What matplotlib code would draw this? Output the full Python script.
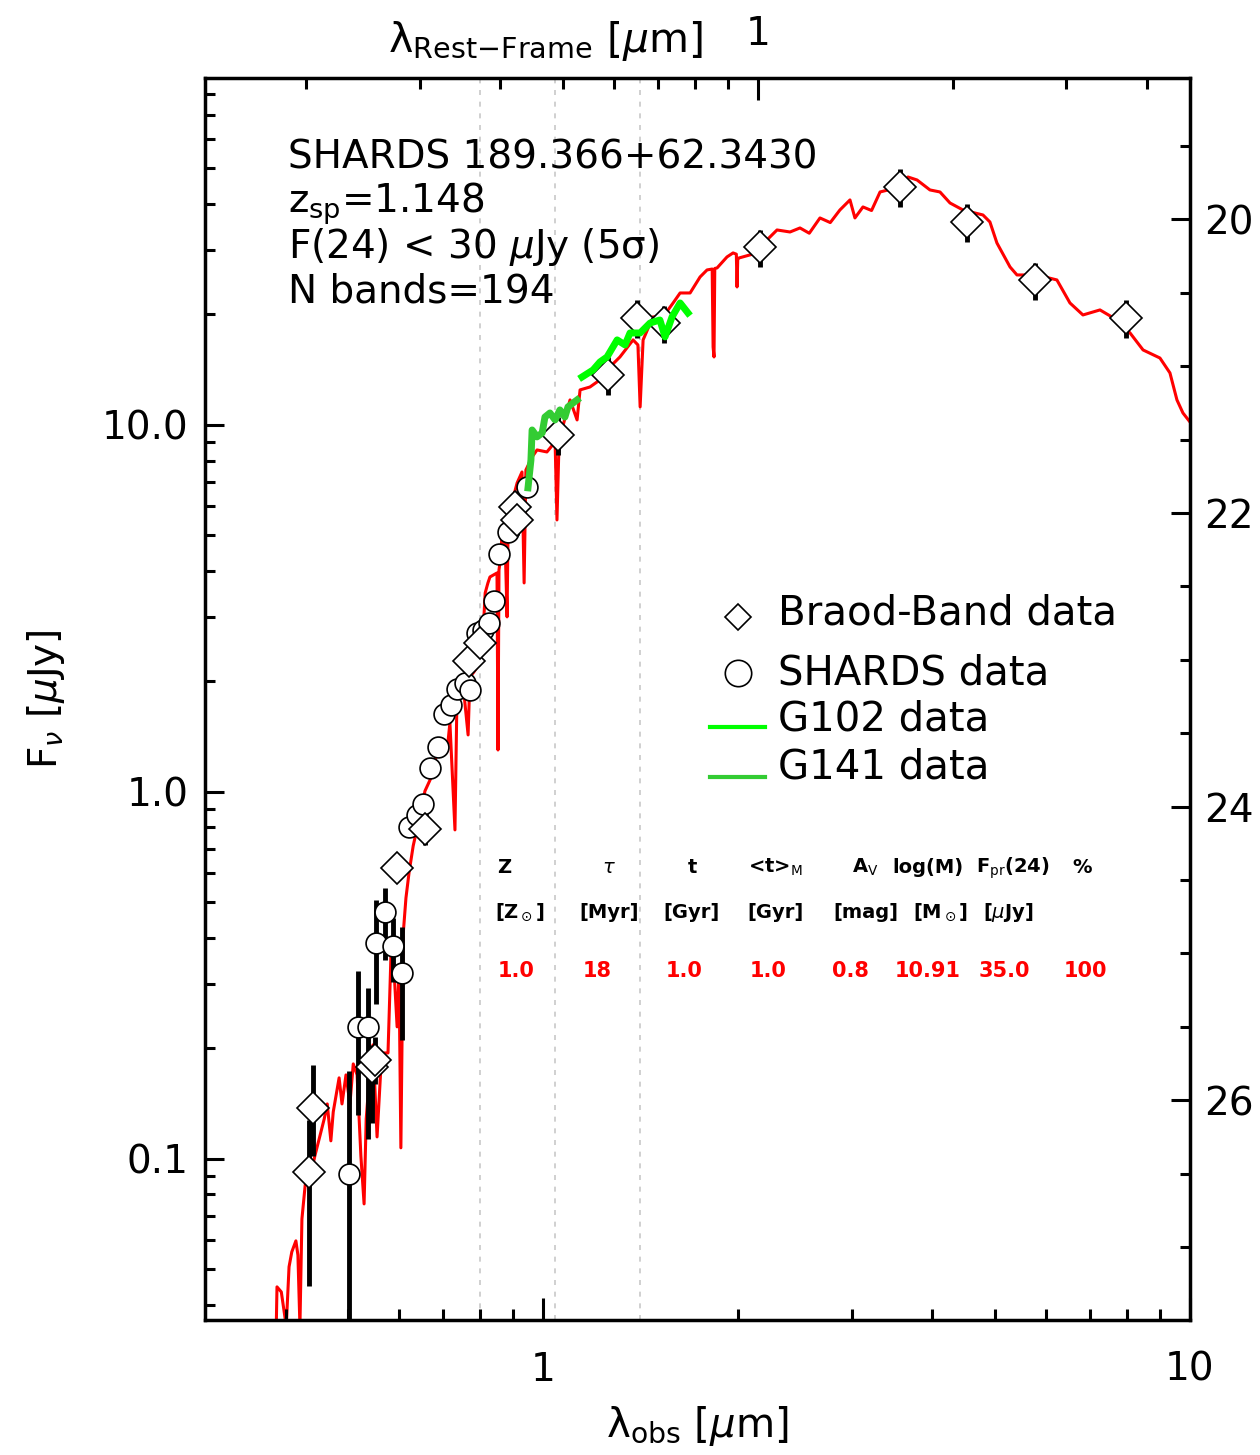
import numpy as np
import matplotlib
matplotlib.use("Agg")
import matplotlib.pyplot as plt
from matplotlib.ticker import FixedLocator, NullFormatter, MultipleLocator

plt.rcParams['font.family'] = ['DejaVu Sans']
plt.rcParams['mathtext.fontset'] = 'dejavusans'

z = 1.148

# best-fit model (red)
model_lam = [0.387, 0.388, 0.394, 0.401, 0.405, 0.409, 0.415, 0.418, 0.421, 0.424,
             0.429, 0.435, 0.444, 0.456, 0.459, 0.464, 0.470, 0.474, 0.484, 0.489,
             0.496, 0.503, 0.509, 0.516, 0.523, 0.529, 0.533, 0.540, 0.546, 0.554,
             0.562, 0.568, 0.576, 0.582, 0.586, 0.595, 0.599, 0.603, 0.608, 0.614,
             0.621, 0.630, 0.641, 0.657, 0.669, 0.683, 0.701, 0.711, 0.718, 0.731,
             0.736, 0.752, 0.766, 0.771, 0.782, 0.791, 0.799, 0.808, 0.814, 0.822,
             0.828, 0.849, 0.852, 0.855, 0.858, 0.864, 0.874, 0.880, 0.883, 0.889,
             0.912, 0.928, 0.935, 0.941, 0.962, 0.979, 1.014, 1.044, 1.051, 1.059,
             1.101, 1.129, 1.141, 1.182, 1.225, 1.269, 1.315, 1.378, 1.402, 1.413,
             1.428, 1.479, 1.533, 1.589, 1.629, 1.688, 1.749, 1.793, 1.826, 1.832,
             1.838, 1.843, 1.858, 1.925, 1.967, 1.990, 1.995, 2.000, 2.009, 2.142,
             2.219, 2.300, 2.409, 2.496, 2.580, 2.680, 2.780, 2.877, 2.982, 3.035,
             3.123, 3.220, 3.319, 3.564, 3.666, 3.786, 3.964, 4.108, 4.257, 4.458,
             4.787, 4.907, 5.031, 5.271, 5.403, 5.801, 6.228, 6.524, 6.833, 7.260,
             7.714, 8.080, 8.463, 8.987, 9.313, 9.548, 9.754, 10.0]
model_fnu = [0.035, 0.0448, 0.0434, 0.035, 0.0508, 0.0558, 0.0598, 0.0547, 0.035, 0.0686,
             0.0850, 0.0866, 0.1019, 0.1230, 0.1285, 0.1412, 0.1120, 0.1343, 0.1663, 0.1412,
             0.1694, 0.1412, 0.1815, 0.1694, 0.1019, 0.0754, 0.1285, 0.1737, 0.2045, 0.1148,
             0.1815, 0.1944, 0.1944, 0.3551, 0.3735, 0.2290, 0.3253, 0.1072, 0.4103, 0.5142,
             0.6053, 0.7127, 0.8180, 1.006, 1.078, 1.246, 1.343, 1.301, 1.542, 0.788,
             1.747, 1.982, 1.430, 2.058, 2.123, 2.191, 2.437, 2.712, 3.485, 3.711,
             3.853, 3.951, 1.301, 4.026, 4.207, 4.953, 4.710, 2.999, 5.175, 5.866,
             6.950, 7.445, 3.711, 7.540, 8.181, 8.549, 8.441, 8.990, 5.510, 9.101,
             11.70, 10.32, 12.46, 12.69, 13.27, 14.39, 15.32, 17.05, 16.52, 11.20,
             17.05, 19.70, 19.70, 21.50, 22.89, 22.89, 25.31, 26.45, 26.60, 16.31,
             15.32, 26.70, 26.78, 28.70, 29.43, 29.20, 23.77, 28.40, 28.51, 29.43,
             31.92, 33.99, 33.56, 34.42, 33.30, 36.65, 35.60, 38.53, 41.04, 36.65,
             39.27, 38.40, 43.14, 44.52, 47.39, 46.51, 43.69, 43.14, 40.26, 38.53,
             37.34, 35.74, 31.32, 26.95, 25.63, 25.63, 24.84, 21.50, 19.94, 20.58,
             19.32, 17.81, 16.01, 15.22, 13.86, 11.70, 10.78, 10.19]

# grism spectra
g102_lam = [1.149, 1.195, 1.225, 1.256, 1.302, 1.339, 1.363, 1.413, 1.464, 1.516, 1.544, 1.583, 1.629, 1.675]
g102_fnu = [13.51, 14.12, 14.85, 15.32, 17.05, 16.52, 17.81, 17.81, 18.96, 19.32, 17.38, 19.70, 21.50, 20.20]
g141_lam = [0.948, 0.958, 0.962, 0.979, 0.997, 1.007, 1.025, 1.044, 1.062, 1.081, 1.093, 1.113, 1.129]
g141_fnu = [6.74, 8.03, 9.69, 9.28, 9.51, 10.51, 10.78, 10.32, 10.99, 10.51, 11.20, 11.48, 11.70]

# broad-band photometry
bb_lam = [0.441, 0.435, 0.544, 0.550, 0.595, 0.657, 0.768, 0.799, 0.905, 0.912,
          1.055, 1.260, 1.398, 1.538, 2.165, 3.563, 4.52, 5.76, 7.96]
bb_fnu = [0.138, 0.092, 0.178, 0.186, 0.621, 0.793, 2.28, 2.55, 5.98, 5.51,
          9.39, 13.7, 19.6, 18.9, 30.5, 44.5, 35.7, 24.8, 19.6]
bb_lo = [0.102, 0.045, 0.125, 0.160, 0.58, 0.717, 2.10, 2.35, 5.4, 5.0,
         8.3, 12.1, 17.3, 16.7, 27.0, 39.2, 31.5, 21.9, 17.3]
bb_hi = [0.180, 0.128, 0.205, 0.215, 0.665, 0.87, 2.45, 2.75, 6.6, 6.0,
         10.5, 15.3, 21.9, 21.1, 34.0, 49.8, 40.0, 27.7, 21.9]

# SHARDS medium-band photometry
sh_lam = [0.501, 0.518, 0.536, 0.552, 0.570, 0.586, 0.605, 0.621, 0.639, 0.652,
          0.669, 0.688, 0.703, 0.721, 0.736, 0.758, 0.771, 0.791, 0.808, 0.825,
          0.840, 0.855, 0.883, 0.945]
sh_fnu = [0.0910, 0.229, 0.229, 0.388, 0.471, 0.380, 0.321, 0.803, 0.866, 0.927,
          1.162, 1.326, 1.631, 1.726, 1.909, 1.982, 1.897, 2.712, 2.764, 2.887,
          3.315, 4.45, 5.11, 6.78]
sh_lo = [0.02, 0.132, 0.113, 0.265, 0.348, 0.304, 0.211, 0.76, 0.82, 0.88,
         1.10, 1.26, 1.55, 1.64, 1.81, 1.88, 1.80, 2.58, 2.63, 2.74,
         3.15, 4.23, 4.85, 6.44]
sh_hi = [0.174, 0.325, 0.292, 0.508, 0.547, 0.454, 0.429, 0.85, 0.91, 0.97,
         1.22, 1.39, 1.71, 1.81, 2.00, 2.08, 1.99, 2.85, 2.90, 3.03,
         3.48, 4.67, 5.37, 7.12]

grism_edges = [0.80, 1.045, 1.41]

table_params = ['Z', r'$\tau$', 't', r'<t>$_{\rm M}$', r'A$_{\rm V}$', 'log(M)', r'F$_{\rm pr}$(24)', '%']
table_units = [r'[Z$_\odot$]', '[Myr]', '[Gyr]', '[Gyr]', '[mag]', r'[M$_\odot$]', r'[$\mu$Jy]']
table_values = ['1.0', '18', '1.0', '1.0', '0.8', '10.91', '35.0', '100']

fig = plt.figure(figsize=(12.6, 14.55), dpi=100)
ax = fig.add_axes([0.1627, 0.0928, 0.7817, 0.8536])
ax.set_xscale('log')
ax.set_yscale('log')
ax.set_xlim(0.3003, 10.0)
ax.set_ylim(0.0364, 88.2)

for xe in grism_edges:
    ax.axvline(xe, color='#c8c8c8', lw=1.2, ls=(0, (3, 4)), zorder=0)

ax.plot(model_lam, model_fnu, color='red', lw=2.2, zorder=1)

bb_lam_a = np.array(bb_lam); bb_fnu_a = np.array(bb_fnu)
sh_lam_a = np.array(sh_lam); sh_fnu_a = np.array(sh_fnu)
ax.errorbar(bb_lam_a, bb_fnu_a, yerr=[bb_fnu_a - np.array(bb_lo), np.array(bb_hi) - bb_fnu_a],
            fmt='none', ecolor='black', elinewidth=3.5, capsize=0, zorder=2)
ax.errorbar(sh_lam_a, sh_fnu_a, yerr=[sh_fnu_a - np.array(sh_lo), np.array(sh_hi) - sh_fnu_a],
            fmt='none', ecolor='black', elinewidth=3.5, capsize=0, zorder=2)
ax.plot(sh_lam, sh_fnu, 'o', ms=15, mfc='white', mec='black', mew=1.2, ls='none', zorder=3)
ax.plot(bb_lam, bb_fnu, 'D', ms=16, mfc='white', mec='black', mew=1.2, ls='none', zorder=3)

ax.plot(g141_lam, g141_fnu, color='#33cc33', lw=5, zorder=4)
ax.plot(g102_lam, g102_fnu, color='#00ff00', lw=5, zorder=4)

# ticks
ax.set_xticks([1, 10])
ax.set_xticklabels(['1', '10'])
ax.xaxis.set_minor_formatter(NullFormatter())
ax.set_yticks([0.1, 1, 10])
ax.set_yticklabels(['0.1', '1.0', '10.0'])
ax.yaxis.set_minor_formatter(NullFormatter())
ax.tick_params(which='both', direction='in', top=False, right=False, labelsize=28, width=2.2)
ax.tick_params(axis='x', which='major', length=16, pad=22)
ax.tick_params(axis='x', which='minor', length=8)
ax.tick_params(axis='y', which='major', length=14, pad=12)
ax.tick_params(axis='y', which='minor', length=7)
for s in ax.spines.values():
    s.set_linewidth(2.5)

def obs_to_rest(x):
    return np.asarray(x, float) / (1 + z)

def rest_to_obs(x):
    return np.asarray(x, float) * (1 + z)

def fnu_to_mag(f):
    f = np.clip(np.asarray(f, float), 1e-8, None)
    return 23.9 - 2.5 * np.log10(f)

def mag_to_fnu(m):
    return 10 ** ((23.9 - np.asarray(m, float)) / 2.5)

top = ax.secondary_xaxis('top', functions=(obs_to_rest, rest_to_obs))
top.set_xticks([1])
top.set_xticklabels(['1'])
top.xaxis.set_minor_locator(FixedLocator([0.2, 0.3, 0.4, 0.5, 0.6, 0.7, 0.8, 0.9, 2, 3, 4]))
top.xaxis.set_minor_formatter(NullFormatter())
top.tick_params(which='both', direction='in', labelsize=28, width=2.2)
top.tick_params(which='major', length=16, pad=18)
top.tick_params(which='minor', length=8)
fig.text(0.433, 0.9643, r'λ$_{\rm Rest{-}Frame}$ [$\mu$m]', fontsize=29.5, ha='center', va='baseline')

right = ax.secondary_yaxis('right', functions=(fnu_to_mag, mag_to_fnu))
right.set_yticks([20, 22, 24, 26])
right.set_yticklabels(['20', '22', '24', '26'])
right.yaxis.set_minor_locator(MultipleLocator(0.5))
right.yaxis.set_minor_formatter(NullFormatter())
right.tick_params(which='both', direction='in', labelsize=28, width=2.2)
right.tick_params(which='major', length=14, pad=10)
right.tick_params(which='minor', length=7)

ax.set_xlabel(r'λ$_{\rm obs}$ [$\mu$m]', fontsize=29)
ax.xaxis.set_label_coords(0.5, -0.068)
ax.set_ylabel(r'F$_\nu$ [$\mu$Jy]', fontsize=28)
ax.yaxis.set_label_coords(-0.14, 0.5)

# object info
info = ['SHARDS 189.366+62.3430', r'z$_{\rm sp}$=1.148',
        r'F(24) < 30 $\mu$Jy (5σ)', 'N bands=194']
for txt, fy in zip(info, [0.9275, 0.8913, 0.855, 0.8196]):
    ax.text(0.0843, fy, txt, transform=ax.transAxes, fontsize=28, va='baseline', ha='left')

# legend
ax.plot([0.5411], [0.566], 'D', ms=13, mfc='white', mec='black', mew=1.2, transform=ax.transAxes, clip_on=False)
ax.plot([0.5411], [0.521], 'o', ms=19, mfc='white', mec='black', mew=1.2, transform=ax.transAxes, clip_on=False)
ax.plot([0.5127, 0.5685], [0.4775, 0.4775], color='#00ff00', lw=3, transform=ax.transAxes)
ax.plot([0.5127, 0.5685], [0.4372, 0.4372], color='#33cc33', lw=3, transform=ax.transAxes)
for txt, fy in zip(['Braod-Band data', 'SHARDS data', 'G102 data', 'G141 data'],
                   [0.5596, 0.512, 0.475, 0.4356]):
    ax.text(0.5817, fy, txt, transform=ax.transAxes, fontsize=29, va='baseline', ha='left')

# fit parameter table
for txt, fx in zip(table_params, [0.3036, 0.410, 0.4944, 0.5787, 0.670, 0.734, 0.820, 0.891]):
    ax.text(fx, 0.3599, txt, transform=ax.transAxes, fontsize=14, fontweight='bold', ha='center', va='baseline')
for txt, fx in zip(table_units, [0.3198, 0.410, 0.4944, 0.5797, 0.671, 0.747, 0.816]):
    ax.text(fx, 0.3237, txt, transform=ax.transAxes, fontsize=14, fontweight='bold', ha='center', va='baseline')
for txt, fx in zip(table_values, [0.3157, 0.398, 0.4863, 0.5716, 0.6558, 0.734, 0.812, 0.894]):
    ax.text(fx, 0.2762, txt, transform=ax.transAxes, fontsize=15, fontweight='bold', color='red', ha='center', va='baseline')

fig.savefig('out.png', dpi=100)
